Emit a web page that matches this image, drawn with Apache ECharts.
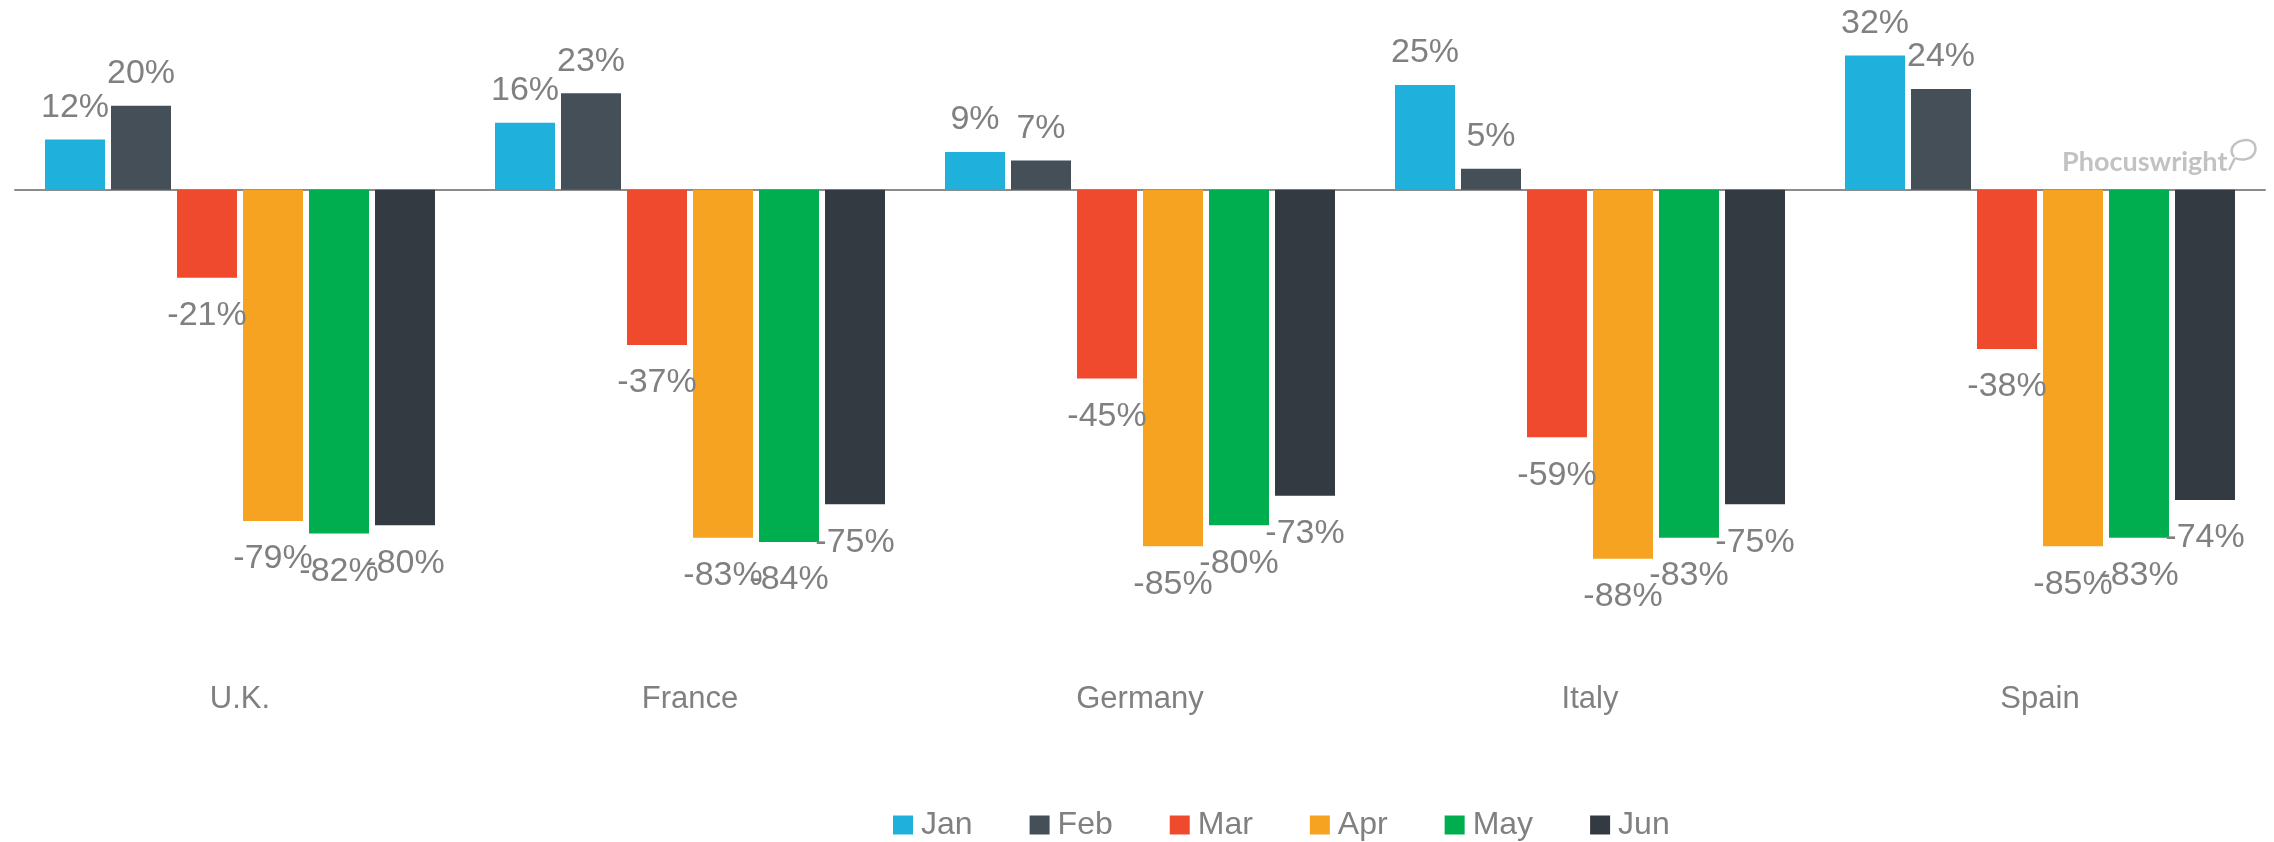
<!DOCTYPE html>
<html>
<head>
<meta charset="utf-8">
<title>Bookings vs prior year</title>
<script src="https://cdn.jsdelivr.net/npm/echarts@6/dist/echarts.min.js"></script>
<style>
  html, body { margin: 0; padding: 0; background: #fff; }
  #chart { width: 2274px; height: 842px; }
</style>
</head>
<body>
<div id="chart"></div>
<script>
// countries on the x axis
var countries = ['U.K.', 'France', 'Germany', 'Italy', 'Spain']
var months = ['Jan', 'Feb', 'Mar', 'Apr', 'May', 'Jun']

// % change per month, in country order
var jan = [12, 16, 9, 25, 32]
var feb = [20, 23, 7, 5, 24]
var mar = [-21, -37, -45, -59, -38]
var apr = [-79, -83, -85, -88, -85]
var may = [-82, -84, -80, -83, -83]
var jun = [-80, -75, -73, -75, -74]

var monthValues = [jan, feb, mar, apr, may, jun]
var monthColors = ['#1fb1db', '#454f58', '#f04a2e', '#f5a321', '#00ae4f', '#343a41']

var labelColor = '#808080'
var fontName = '"Liberation Sans", Arial, sans-serif'
var logoColor = '#c2c2c2'

var chart = echarts.init(document.getElementById('chart'), null, { renderer: 'canvas' })

var series = []
for (var i = 0; i < months.length; i++) {
  series.push({
    name: months[i],
    type: 'bar',
    xAxisIndex: 0,
    barGap: '10%',
    barCategoryGap: '13.33%',
    itemStyle: { color: monthColors[i] },
    label: {
      show: true,
      distance: 15,
      color: labelColor,
      fontSize: 34,
      fontFamily: fontName,
      formatter: '{c}%'
    },
    // negative bars carry their label underneath
    data: monthValues[i].map(function (v) {
      return { value: v, label: v < 0 ? { position: 'bottom', distance: 21 } : { position: 'top' } }
    })
  })
}

var option = {
  animation: false,
  color: monthColors,
  grid: { left: 15, right: 9, top: 22, bottom: 170 },
  legend: {
    data: months,
    left: 888,
    top: 804,
    icon: 'rect',
    itemWidth: 20,
    itemHeight: 19,
    itemGap: 57,
    textStyle: { color: labelColor, fontSize: 32, fontFamily: fontName, padding: [0, 0, 0, 3] }
  },
  xAxis: [
    {
      // category names along the bottom
      type: 'category',
      data: countries,
      position: 'bottom',
      axisLine: { show: false, onZero: false },
      axisTick: { show: false },
      axisLabel: { color: labelColor, fontSize: 31, fontFamily: fontName, margin: 12 }
    },
    {
      // zero line
      type: 'category',
      data: countries,
      position: 'bottom',
      axisLine: { show: true, onZero: true, lineStyle: { color: '#8c8c8c', width: 2 } },
      axisTick: { show: false },
      axisLabel: { show: false }
    }
  ],
  yAxis: {
    type: 'value',
    min: -115,
    max: 40,
    show: false,
    splitLine: { show: false }
  },
  graphic: [
    {
      type: 'text',
      x: 2062,
      y: 149,
      style: {
        text: 'Phocuswright',
        fill: logoColor,
        font: 'bold 27px Lato, "Open Sans", sans-serif'
      }
    },
    // little speech bubble of the logo
    {
      type: 'bezierCurve',
      shape: { x1: 2234, y1: 157, x2: 2255, y2: 152, cpx1: 2222, cpy1: 141, cpx2: 2260, cpy2: 131 },
      style: { fill: null, stroke: logoColor, lineWidth: 2.5 }
    },
    {
      type: 'bezierCurve',
      shape: { x1: 2255, y1: 152, x2: 2235, y2: 158, cpx1: 2252, cpy1: 160, cpx2: 2241, cpy2: 161 },
      style: { fill: null, stroke: logoColor, lineWidth: 2.5 }
    },
    {
      type: 'line',
      shape: { x1: 2235, y1: 158, x2: 2229, y2: 170 },
      style: { stroke: logoColor, lineWidth: 2.5 }
    }
  ],
  series: series
}

chart.setOption(option)
</script>
</body>
</html>
